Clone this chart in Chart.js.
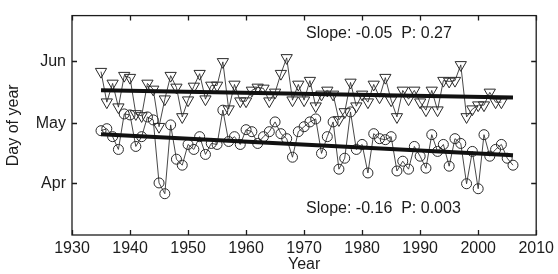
<!DOCTYPE html>
<html>
<head>
<meta charset="utf-8">
<script src="https://cdn.jsdelivr.net/npm/chart.js@4"></script>
<style>
  html, body { margin: 0; padding: 0; background: #fff; }
  #wrap { width: 558px; height: 274px; }
</style>
</head>
<body>
<div id="wrap"><canvas id="chart"></canvas></div>
<script>
// ── Data (day of year) ───────────────────────────────────────────────────────

const years = [
    1935, 1936, 1937, 1938, 1939, 1940, 1941, 1942, 1943, 1944,
    1945, 1946, 1947, 1948, 1949, 1950, 1951, 1952, 1953, 1954,
    1955, 1956, 1957, 1958, 1959, 1960, 1961, 1962, 1963, 1964,
    1965, 1966, 1967, 1968, 1969, 1970, 1971, 1972, 1973, 1974,
    1975, 1976, 1977, 1978, 1979, 1980, 1981, 1982, 1983, 1984,
    1985, 1986, 1987, 1988, 1989, 1990, 1991, 1992, 1993, 1994,
    1995, 1996, 1997, 1998, 1999, 2000, 2001, 2002, 2003, 2004,
    2005, 2006,
];

// triangles (later event), 1935–2004
const lateDates = [
    146.9, 131.6, 141.0, 129.1, 144.9, 143.9, 125.7, 124.7, 141.0, 138.0,
    119.3, 133.1, 144.9, 139.0, 124.2, 132.6, 139.5, 145.9, 133.1, 140.0,
    140.0, 151.8, 128.1, 140.5, 132.1, 132.1, 137.5, 139.0, 138.5, 132.1,
    136.5, 145.9, 153.8, 132.6, 140.5, 132.6, 142.4, 129.6, 135.5, 137.5,
    135.5, 122.7, 126.7, 141.5, 129.6, 135.5, 131.6, 140.5, 134.1, 143.9,
    132.6, 124.2, 137.5, 133.1, 137.5, 131.6, 127.6, 137.5, 127.6, 142.4,
    142.0, 142.4, 150.3, 124.2, 128.1, 130.1, 130.1, 136.5, 131.6, 131.6,
];

// circles (earlier event), 1935–2006
const earlyDates = [
    117.3, 118.3, 114.3, 107.9, 125.7, 125.2, 109.4, 114.3, 124.2, 122.7,
    91.1, 85.7, 120.2, 103.0, 100.0, 110.4, 107.9, 114.3, 105.4, 110.9,
    110.4, 127.6, 111.9, 114.3, 110.4, 117.8, 116.8, 110.9, 114.3, 116.8,
    121.7, 115.8, 113.3, 104.0, 116.8, 119.3, 121.7, 123.2, 105.9, 114.3,
    121.7, 98.0, 103.5, 126.7, 107.9, 110.4, 96.1, 115.8, 113.3, 112.8,
    114.3, 97.1, 102.0, 98.0, 109.4, 104.5, 98.5, 115.3, 106.9, 110.4,
    99.5, 113.3, 110.9, 90.7, 106.9, 88.2, 115.3, 104.5, 107.9, 110.4,
    103.5, 100.0,
];

const trendYears = [1935, 2006];
const lateTrend = [137.6, 134.0];
const earlyTrend = [115.5, 105.0];

const monthTicks = [91, 121, 152];
const monthLabels = ['Apr', 'May', 'Jun'];

const lateStats = 'Slope: -0.05  P: 0.27';
const earlyStats = 'Slope: -0.16  P: 0.003';

// ── Helpers ─────────────────────────────────────────────────────────────────

const INK = '#1c1c1c';
const FONT = '"Liberation Sans", Arial, sans-serif';

const toPoints = (xs, ys) => ys.map((v, i) => ({ x: xs[i], y: v }));

// box frame with inward ticks on all four sides, plus the two stats lines
const framePlugin = {
    id: 'frame',
    afterDatasetsDraw(chart) {
        const { ctx, chartArea: a, scales } = chart;
        const { x, y } = scales;
        ctx.save();
        ctx.strokeStyle = INK;
        ctx.lineWidth = 1.3;
        ctx.strokeRect(a.left, a.top, a.right - a.left, a.bottom - a.top);

        ctx.beginPath();
        x.ticks.forEach((t) => {
            const px = Math.round(x.getPixelForValue(t.value)) + 0.5;
            ctx.moveTo(px, a.bottom);
            ctx.lineTo(px, a.bottom - 5);
            ctx.moveTo(px, a.top);
            ctx.lineTo(px, a.top + 5);
        });
        y.ticks.forEach((t) => {
            const py = Math.round(y.getPixelForValue(t.value)) + 0.5;
            ctx.moveTo(a.left, py);
            ctx.lineTo(a.left + 5, py);
            ctx.moveTo(a.right, py);
            ctx.lineTo(a.right - 5, py);
        });
        ctx.stroke();

        ctx.fillStyle = INK;
        ctx.font = `16px ${FONT}`;
        ctx.textBaseline = 'middle';
        ctx.textAlign = 'left';
        ctx.fillText(lateStats, a.left + 234, a.top + 18);
        ctx.fillText(earlyStats, a.left + 234, a.bottom - 26);
        ctx.restore();
    },
};

// ── Chart ───────────────────────────────────────────────────────────────────

const dataStyle = {
    showLine: true,
    borderColor: '#333',
    borderWidth: 0.9,
    backgroundColor: 'transparent',
    pointBorderColor: '#2a2a2a',
    pointBorderWidth: 1,
    pointBackgroundColor: 'transparent',
    order: 2,
};

const trendStyle = {
    showLine: true,
    borderColor: '#111',
    borderWidth: 4,
    pointRadius: 0,
    order: 1,
};

new Chart(document.getElementById('chart'), {
    type: 'scatter',
    data: {
        datasets: [
            {
                ...dataStyle,
                data: toPoints(years, lateDates),
                pointStyle: 'triangle',
                rotation: 180,
                pointRadius: 6.5,
            },
            {
                ...dataStyle,
                data: toPoints(years, earlyDates),
                pointStyle: 'circle',
                pointRadius: 5,
            },
            { ...trendStyle, data: toPoints(trendYears, lateTrend) },
            { ...trendStyle, data: toPoints(trendYears, earlyTrend) },
        ],
    },
    options: {
        responsive: true,
        maintainAspectRatio: false,
        animation: false,
        layout: { padding: { top: 12, right: 21, left: 0, bottom: 0 } },
        plugins: {
            legend: { display: false },
            tooltip: { enabled: false },
        },
        scales: {
            x: {
                type: 'linear',
                min: 1930,
                max: 2010,
                grid: { display: false, drawTicks: false },
                border: { display: false },
                ticks: {
                    stepSize: 10,
                    padding: 4,
                    color: INK,
                    font: { family: FONT, size: 16 },
                    maxRotation: 0,
                    callback: (v) => String(v),
                },
                title: {
                    display: true,
                    text: 'Year',
                    color: INK,
                    font: { family: FONT, size: 16 },
                    padding: { top: 0, bottom: 0 },
                },
                afterFit: (s) => { s.height = 39; },
            },
            y: {
                type: 'linear',
                min: 65,
                max: 175,
                grid: { display: false, drawTicks: false },
                border: { display: false },
                afterBuildTicks: (s) => {
                    s.ticks = monthTicks.map((v) => ({ value: v }));
                },
                ticks: {
                    padding: 6,
                    color: INK,
                    font: { family: FONT, size: 16 },
                    callback: (v) => monthLabels[monthTicks.indexOf(v)],
                },
                title: {
                    display: true,
                    text: 'Day of year',
                    color: INK,
                    font: { family: FONT, size: 16 },
                    padding: { top: 4, bottom: 0 },
                },
                afterFit: (s) => { s.width = 72; },
            },
        },
    },
    plugins: [framePlugin],
});
</script>
</body>
</html>
